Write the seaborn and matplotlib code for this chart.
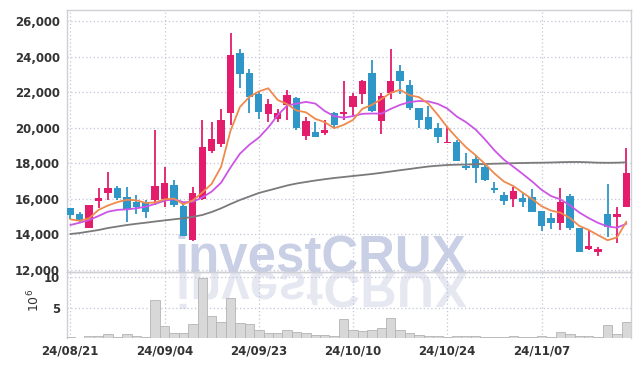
import numpy as np
import pandas as pd
import matplotlib
matplotlib.use("Agg")
import matplotlib.pyplot as plt
import seaborn as sns
from matplotlib import font_manager
from matplotlib.textpath import TextPath
from matplotlib.patches import PathPatch
from matplotlib.font_manager import FontProperties
from matplotlib.transforms import Affine2D, IdentityTransform

# ---------------- data ----------------
opens = [15480, 15150, 14380, 15900, 16310, 16590, 16090, 15840, 15810, 15940,
         15980, 16780, 15620, 13690, 15980, 18710, 19090, 20850, 24200, 23100,
         21900, 20750, 20500, 21300, 21650, 19550, 19740, 19720, 20800, 20750,
         21150, 21900, 23050, 20400, 21950, 23200, 22400, 21100, 20600, 19970,
         19150, 19210, 17870, 18240, 17780, 16590, 16220, 15980, 16030, 16090,
         15320, 14910, 14660, 16160, 14350, 13170, 13000, 15150, 15000, 15560]
highs = [15500, 15280, 15660, 16590, 17490, 16720, 16650, 16220, 15940, 19870,
         17780, 17060, 15690, 16680, 20450, 20300, 21050, 25350, 24400, 23300,
         22000, 21600, 21050, 22100, 21750, 20600, 20350, 20450, 20900, 22600,
         21950, 22700, 23800, 21950, 24400, 23550, 22700, 21100, 21200, 20250,
         20020, 19310, 18560, 18410, 17900, 16970, 16400, 16680, 16350, 16540,
         15320, 15190, 16590, 16270, 14350, 14250, 13280, 16840, 15530, 18840]
lows = [14850, 14660, 14380, 15470, 15940, 15940, 14680, 15150, 14910, 15660,
        15530, 15560, 13900, 13650, 15940, 18600, 18900, 20150, 22250, 20850,
        20500, 20350, 20350, 20450, 19870, 19310, 19470, 19590, 19970, 20450,
        20650, 21350, 20900, 19650, 21600, 21900, 21000, 19970, 19900, 19120,
        19130, 18120, 17620, 16910, 17020, 16350, 15660, 15530, 15560, 15250,
        14210, 14290, 14250, 14250, 13030, 13150, 12790, 13870, 13540, 15530]
closes = [15090, 14770, 15660, 16030, 16590, 16030, 15430, 15530, 15280, 16720,
          16910, 15660, 13930, 16350, 18930, 19370, 20450, 24100, 23000, 21750,
          20900, 21350, 20800, 21850, 19970, 20400, 19500, 19870, 20150, 20900,
          21800, 22650, 20950, 21800, 22650, 22650, 21100, 20450, 19930, 19500,
          19190, 18150, 17720, 17720, 17060, 16500, 15900, 16440, 15840, 15280,
          14490, 14660, 15840, 14380, 13030, 13350, 13180, 14440, 15150, 17470]
ma5 = [14850, 14770, 14910, 15380, 15630, 15817, 15949, 15923, 15772, 15798,
       15974, 16019, 15700, 15913, 16355, 16846, 17802, 19834, 21168, 21731,
       22038, 22218, 21562, 21326, 20971, 20866, 20498, 20311, 19973, 20160,
       20441, 21067, 21284, 21611, 21959, 22131, 21824, 21720, 21348, 20719,
       20028, 19439, 18896, 18454, 17967, 17429, 16979, 16724, 16348, 15992,
       15590, 15343, 15223, 14930, 14481, 14252, 13957, 13676, 13830, 14718]
ma10 = [14530, 14660, 14810, 15040, 15280, 15380, 15410, 15470, 15560, 15714,
        15896, 15984, 15811, 15843, 16077, 16410, 16910, 17767, 18541, 19043,
        19442, 20010, 20698, 21247, 21351, 21452, 21358, 20936, 20650, 20565,
        20654, 20783, 20798, 20792, 21060, 21286, 21446, 21502, 21480, 21339,
        21080, 20631, 20308, 19901, 19343, 18728, 18209, 17810, 17401, 16979,
        16510, 16161, 15973, 15639, 15236, 14921, 14650, 14449, 14380, 14599]
ma_long = [14025, 14081, 14166, 14250, 14362, 14447, 14531, 14599, 14660, 14728,
           14790, 14852, 14908, 14992, 15093, 15262, 15470, 15712, 15937, 16133,
           16330, 16471, 16611, 16752, 16864, 16949, 17033, 17106, 17174, 17230,
           17286, 17342, 17399, 17466, 17539, 17612, 17680, 17753, 17820, 17865,
           17904, 17921, 17932, 17949, 17961, 17977, 17989, 18006, 18017, 18028,
           18034, 18045, 18062, 18073, 18073, 18056, 18034, 18028, 18034, 18056]
volume_m = [0.2, 0.05, 0.4, 0.4, 0.6, 0.2, 0.6, 0.3, 0.2, 6.3,
            1.9, 0.8, 0.8, 2.25, 9.8, 3.7, 2.6, 6.6, 2.4, 2.25,
            1.3, 0.9, 0.8, 1.3, 1.0, 0.8, 0.55, 0.55, 0.33, 3.1,
            1.3, 1.1, 1.3, 1.6, 3.35, 1.3, 0.8, 0.5, 0.33, 0.27,
            0.15, 0.33, 0.33, 0.33, 0.15, 0.15, 0.15, 0.33, 0.15, 0.15,
            0.33, 0.15, 1.05, 0.6, 0.4, 0.4, 0.2, 2.2, 0.6, 2.7]
date_tick_pos = [0, 10, 20, 30, 40, 50]
date_tick_labels = ["24/08/21", "24/09/04", "24/09/23", "24/10/10", "24/10/24", "24/11/07"]
price_ticks = [12000, 14000, 16000, 18000, 20000, 22000, 24000, 26000]
volume_ticks = [5, 10]
watermark = "investCRUX"

# ---------------- style ----------------
sns.set_theme(style="white")


def find_condensed_bold():
    """Look for an installed condensed bold sans face (DejaVu preferred)."""
    best = None
    for f in font_manager.fontManager.ttflist:
        nm = f.name.lower()
        st = str(f.stretch).lower()
        if not ("narrow" in nm or "condensed" in nm or "condensed" in st):
            continue
        if "mono" in nm or ("serif" in nm and "sans" not in nm):
            continue
        w = f.weight if isinstance(f.weight, int) else (700 if "bold" in str(f.weight).lower() else 400)
        style_pen = 0 if str(f.style) == "normal" else 1000
        fam_pen = 0 if "dejavu" in nm else 30
        score = abs(w - 700) + style_pen + fam_pen
        if best is None or score < best[0]:
            best = (score, f.fname, nm)
    return best


found = find_condensed_bold()
if found:
    TICK_FP = FontProperties(fname=found[1], size=9.4)
else:
    TICK_FP = FontProperties(family="Roboto", weight="bold", size=9.3)

plt.rcParams["font.family"] = ["DejaVu Sans"]

RED = "#e31c6b"
BLUE = "#2f96c8"
ORANGE = "#ef8a4e"
MAGENTA = "#cc55e6"
GRAY = "#7a7a7a"
GRID = "#c3c6da"
TXT = "#333333"
SPINE = "#cfcfd6"

W, H = 639, 366
fig = plt.figure(figsize=(W / 100, H / 100), dpi=100)

left_px, right_px = 66.7, 631.0
top_px, mid_px, bot_px = 9.5, 271.5, 338.0
ax = fig.add_axes([left_px / W, 1 - mid_px / H, (right_px - left_px) / W, (mid_px - top_px) / H])
axv = fig.add_axes([left_px / W, 1 - bot_px / H, (right_px - left_px) / W, (bot_px - mid_px) / H])
for a in (ax, axv):
    a.set_facecolor("none")

df = pd.DataFrame({"i": np.arange(len(closes)), "open": opens, "high": highs,
                   "low": lows, "close": closes, "ma5": ma5, "ma10": ma10,
                   "ma_long": ma_long, "vol": volume_m})
up = df["close"] >= df["open"]
cols = np.where(up, RED, BLUE)

# wicks and bodies
ax.vlines(df["i"], df["low"], df["high"], colors=cols, linewidth=1.3, zorder=3)
body_h = np.maximum((df["close"] - df["open"]).abs(), 70)
body_b = np.minimum(df["open"], df["close"])
ax.bar(df["i"], body_h, bottom=body_b, width=0.78, color=cols, linewidth=0, zorder=4)

# moving averages
sns.lineplot(data=df, x="i", y="ma_long", color=GRAY, linewidth=1.3, ax=ax, zorder=5)
sns.lineplot(data=df, x="i", y="ma10", color=MAGENTA, linewidth=1.3, ax=ax, zorder=5)
sns.lineplot(data=df, x="i", y="ma5", color=ORANGE, linewidth=1.3, ax=ax, zorder=5)

xlim = (-0.38, len(closes) - 1 + 0.49)
ax.set_xlim(*xlim)
ax.set_ylim(11917, 26647)
ax.set_yticks(price_ticks)
ax.set_yticklabels([f"{v:,}" for v in price_ticks])
ax.set_xticks(date_tick_pos)
ax.set_xticklabels([])
ax.set_xlabel("")
ax.set_ylabel("")

# volume
sns.barplot(data=df, x="i", y="vol", ax=axv, color="#d8d8d8", saturation=1,
            width=1.0, edgecolor="#b4b4b4", linewidth=0.6, zorder=3)
axv.set_xlim(*xlim)
axv.set_ylim(0, 10.95)
axv.set_yticks(volume_ticks)
axv.set_yticklabels([str(v) for v in volume_ticks])
axv.set_xticks(date_tick_pos)
axv.set_xticklabels(date_tick_labels)
axv.set_xlabel("")
axv.set_ylabel("")

for a in (ax, axv):
    a.grid(True, color=GRID, linestyle=(0, (1, 2)), linewidth=0.9)
    a.set_axisbelow(True)
    a.tick_params(length=0, colors=TXT, pad=5)
    for lab in a.get_xticklabels() + a.get_yticklabels():
        lab.set_fontproperties(TICK_FP)
        lab.set_color(TXT)
    for s in a.spines.values():
        s.set_color(SPINE)
        s.set_linewidth(1.0)
axv.spines["bottom"].set_visible(False)
axv.tick_params(axis="x", pad=5)

fig.text(34 / W, 1 - 300 / H, r"$10^6$", rotation=90, ha="center", va="center",
         fontsize=9, color=TXT)

# watermark and its reflection
wm_size_px = 51
base_y = H - 271
fig.text(175 / W, base_y / H, watermark, fontsize=wm_size_px * 0.72,
         family="Liberation Sans", fontweight="bold", color="#c9d0e6",
         va="baseline", ha="left", zorder=-1)
tp = TextPath((0, 0), watermark, size=wm_size_px,
              prop=FontProperties(family="Liberation Sans", weight="bold"))
refl = Affine2D().scale(1, -1).translate(176, base_y - 1).transform_path(tp)
patch = PathPatch(refl, facecolor="#e6e8f1", edgecolor="none",
                  transform=IdentityTransform(), zorder=-1)
fig.add_artist(patch)

fig.savefig("out.png", dpi=100)
